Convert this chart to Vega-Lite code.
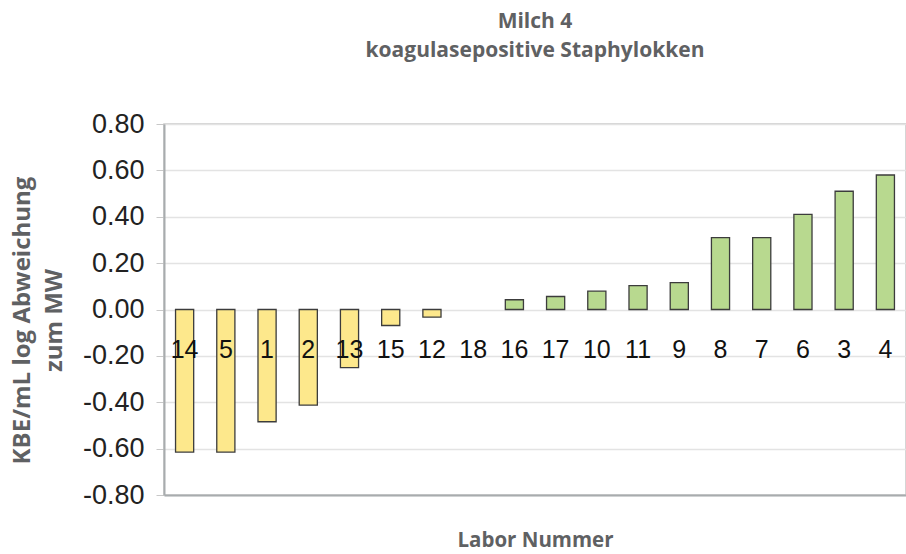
{
  "$schema": "https://vega.github.io/schema/vega-lite/v6.json",
  "width": 742,
  "height": 371,
  "autosize": {"type": "none"},
  "padding": {"left": 164, "top": 124, "right": 0, "bottom": 59},
  "background": "white",
  "title": {
    "text": ["Milch 4", "koagulasepositive Staphylokken"],
    "font": "Open Sans",
    "fontSize": 21,
    "fontWeight": "bold",
    "color": "#5f6163",
    "anchor": "middle",
    "frame": "group",
    "offset": 49,
    "lineHeight": 29
  },
  "config": {
    "view": {"stroke": "#c8c8c8", "strokeWidth": 1.5}
  },
  "data": {
    "values": [
      {"lab": "14", "value": -0.615, "group": "neg"},
      {"lab": "5", "value": -0.615, "group": "neg"},
      {"lab": "1", "value": -0.484, "group": "neg"},
      {"lab": "2", "value": -0.412, "group": "neg"},
      {"lab": "13", "value": -0.251, "group": "neg"},
      {"lab": "15", "value": -0.069, "group": "neg"},
      {"lab": "12", "value": -0.033, "group": "neg"},
      {"lab": "18", "value": 0.0, "group": "pos"},
      {"lab": "16", "value": 0.042, "group": "pos"},
      {"lab": "17", "value": 0.056, "group": "pos"},
      {"lab": "10", "value": 0.079, "group": "pos"},
      {"lab": "11", "value": 0.103, "group": "pos"},
      {"lab": "9", "value": 0.116, "group": "pos"},
      {"lab": "8", "value": 0.31, "group": "pos"},
      {"lab": "7", "value": 0.31, "group": "pos"},
      {"lab": "6", "value": 0.41, "group": "pos"},
      {"lab": "3", "value": 0.51, "group": "pos"},
      {"lab": "4", "value": 0.58, "group": "pos"}
    ]
  },
  "encoding": {
    "x": {
      "field": "lab",
      "type": "nominal",
      "sort": null,
      "scale": {"paddingInner": 0.56, "paddingOuter": 0.28},
      "axis": {
        "labels": false,
        "ticks": false,
        "domainColor": "#a8acae",
        "domainWidth": 2,
        "title": "Labor Nummer",
        "titleFont": "Open Sans",
        "titleFontSize": 20.5,
        "titleFontWeight": "bold",
        "titleColor": "#5f6163",
        "titlePadding": 35
      }
    }
  },
  "layer": [
    {
      "mark": {"type": "bar", "stroke": "#3c3c3c", "strokeWidth": 1.3},
      "encoding": {
        "y": {
          "field": "value",
          "type": "quantitative",
          "scale": {"domain": [-0.8, 0.8], "nice": false, "zero": true},
          "axis": {
            "values": [-0.8, -0.6, -0.4, -0.2, 0, 0.2, 0.4, 0.6, 0.8],
            "labelExpr": "replace(format(datum.value, '.2f'), '\u2212', '-')",
            "labelFont": "Liberation Sans",
            "labelFontSize": 27,
            "labelColor": "#222222",
            "labelPadding": 12,
            "tickColor": "#c8c8c8",
            "tickSize": 8,
            "domainColor": "#a8acae",
            "domainWidth": 2,
            "gridColor": "#e3e3e3",
            "gridWidth": 1.5,
            "title": ["KBE/mL log Abweichung", "zum MW"],
            "titleFont": "Open Sans",
            "titleFontSize": 24,
            "titleFontWeight": "bold",
            "titleColor": "#5f6163",
            "titleLineHeight": 32,
            "titlePadding": 16,
            "titleY": 196
          }
        },
        "color": {
          "field": "group",
          "type": "nominal",
          "scale": {"domain": ["neg", "pos"], "range": ["#fde88c", "#b8d98f"]},
          "legend": null
        },
        "strokeOpacity": {
          "condition": {"test": "datum.value == 0", "value": 0},
          "value": 1
        }
      }
    },
    {
      "mark": {"type": "text", "font": "Liberation Sans", "fontSize": 25, "baseline": "alphabetic", "dy": 2, "color": "#111111"},
      "encoding": {
        "text": {"field": "lab"},
        "y": {"datum": -0.2}
      }
    }
  ]
}
